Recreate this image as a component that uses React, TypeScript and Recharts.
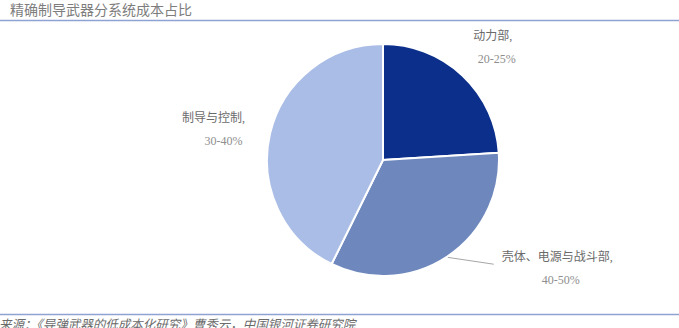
import { PieChart, Pie, Cell } from 'recharts'

const TITLE = '精确制导武器分系统成本占比'
const SOURCE = '资料来源：《导弹武器的低成本化研究》曹秀云，中国银河证券研究院'

const names = ['动力部', '壳体、电源与战斗部', '制导与控制']
const ranges = ['20-25%', '40-50%', '30-40%']
const shares = [24, 33.3, 42.7]

const colors = ['#0b2f8a', '#6e88bd', '#a9bde6']
const LINE = '#8fa3d3'
const TEXT = '#6b6b6b'
const TEXT_LIGHT = '#8e8e8e'
const FONT = '"Liberation Serif", "Noto Sans CJK SC", serif'

const data = names.map((name, i) => ({ name, range: ranges[i], value: shares[i] }))

const RAD = Math.PI / 180

// label placement per slice: distance past the rim, text offsets, offset of the % line
const labelLayout = [
  { r: 40, dx: 3, dy: -12, numDx: 4, anchor: 'middle', leader: false },
  { r: 8, dx: 50, dy: -8, numDx: 40, anchor: 'start', leader: true },
  { r: 60, dx: 2, dy: -4, numDx: 10, anchor: 'middle', leader: false },
]

function SliceLabel(props: any) {
  const { cx, cy, midAngle, outerRadius, index, payload } = props
  const cfg = labelLayout[index]
  const sin = Math.sin(-midAngle * RAD)
  const cos = Math.cos(-midAngle * RAD)
  const ax = cx + (outerRadius + cfg.r) * cos
  const ay = cy + (outerRadius + cfg.r) * sin
  const x = ax + cfg.dx
  const y = ay + cfg.dy
  const sx = cx + (outerRadius + 1) * cos
  const sy = cy + (outerRadius + 1) * sin
  return (
    <g>
      {cfg.leader && (
        <line x1={sx} y1={sy} x2={x - 8} y2={y + 9} stroke="#a6a6a6" strokeWidth={1} />
      )}
      <text x={x} y={y + 6} textAnchor={cfg.anchor} fill={TEXT} fontSize={12} fontFamily={FONT}>
        {payload.name},
      </text>
      <text x={x + cfg.numDx} y={y + 29} textAnchor={cfg.anchor} fill={TEXT_LIGHT} fontSize={12} fontFamily={FONT}>
        {payload.range}
      </text>
    </g>
  )
}

export default function App() {
  return (
    <div style={{ position: 'absolute', left: 0, top: 0, width: 679, height: 328, background: '#fff', overflow: 'hidden' }}>
      <PieChart width={679} height={328} margin={{ top: 0, right: 0, bottom: 0, left: 0 }}>
        <text x={10} y={15} fill="#7d7d7d" fontSize={14} fontFamily={FONT}>
          {TITLE}
        </text>
        <line x1={0} y1={20.5} x2={679} y2={20.5} stroke={LINE} strokeWidth={1.5} />
        <Pie
          data={data}
          dataKey="value"
          nameKey="name"
          cx={383}
          cy={160}
          outerRadius={116}
          startAngle={90}
          endAngle={-270}
          stroke="#fff"
          strokeWidth={2}
          label={SliceLabel}
          labelLine={false}
          isAnimationActive={false}
        >
          {data.map((_, i) => (
            <Cell key={i} fill={colors[i]} />
          ))}
        </Pie>
        <line x1={0} y1={314.5} x2={679} y2={314.5} stroke={LINE} strokeWidth={1.5} />
        <text x={-26} y={329} fill={TEXT} fontSize={12.5} fontStyle="italic" fontFamily={FONT}>
          {SOURCE}
        </text>
      </PieChart>
    </div>
  )
}
